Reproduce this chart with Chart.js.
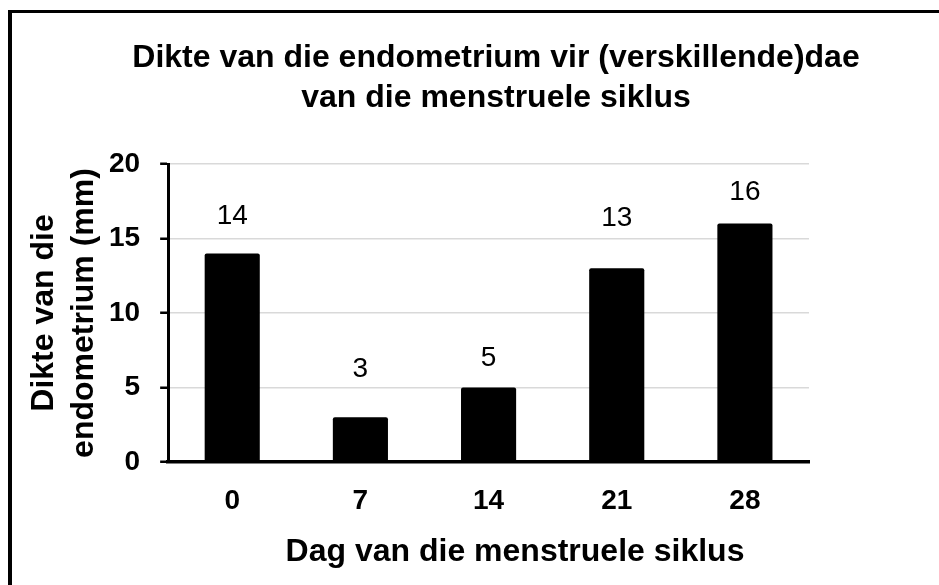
<!DOCTYPE html>
<html>
<head>
<meta charset="utf-8">
<script src="https://cdn.jsdelivr.net/npm/chart.js@4.4.1/dist/chart.umd.min.js"></script>
<style>
  html, body { margin: 0; padding: 0; background: #fff; overflow: hidden; }
  #wrap { position: relative; width: 939px; height: 585px; overflow: hidden; background: #fff; }
  #frame { position: absolute; left: 8px; top: 10px; width: 2000px; height: 2000px;
           border-left: 4px solid #000; border-top: 3px solid #000; pointer-events: none; }
  canvas { position: absolute; left: 0; top: 0; }
</style>
</head>
<body>
<div id="wrap">
  <canvas id="c" width="939" height="585"></canvas>
  <div id="frame"></div>
</div>
<script>
// ---- data ----
const categories = ["0", "7", "14", "21", "28"];
const thickness = [14, 3, 5, 13, 16];
const yTicks = [0, 5, 10, 15, 20];
const chartTitle = ["Dikte van die endometrium vir (verskillende)dae", "van die menstruele siklus"];
const xTitle = "Dag van die menstruele siklus";
const yTitle = ["Dikte van die", "endometrium (mm)"];

// ---- styling (label distance above each bar, px) ----
const labelLift = [37, 48, 29, 50, 31];

const FONT = "'Liberation Sans', Arial, Helvetica, sans-serif";

// value labels above bars
const valueLabels = {
  id: 'valueLabels',
  afterDatasetsDraw(chart) {
    const ctx = chart.ctx;
    const meta = chart.getDatasetMeta(0);
    ctx.save();
    ctx.font = "28px " + FONT;
    ctx.fillStyle = "#000";
    ctx.textAlign = "center";
    ctx.textBaseline = "middle";
    meta.data.forEach((bar, i) => {
      ctx.fillText(String(thickness[i]), bar.x, bar.y - labelLift[i]);
    });
    ctx.restore();
  }
};

// shift title texts horizontally to match the reference placement
const titleShift = {
  id: 'titleShift',
  beforeDraw(chart) {
    const tb = chart.titleBlock;
    if (tb && !tb._shifted) {
      const orig = tb.draw;
      tb.draw = function () {
        const dx = 496 - (this.left + this.right) / 2;
        this.ctx.save();
        this.ctx.translate(dx, 0);
        orig.apply(this, arguments);
        this.ctx.restore();
      };
      tb._shifted = true;
    }
    const xs = chart.scales.x;
    if (xs && !xs._shifted) {
      const origT = xs.drawTitle;
      xs.drawTitle = function () {
        const dx = 515 - (this.left + this.right) / 2;
        this.ctx.save();
        this.ctx.translate(dx, 0);
        origT.apply(this, arguments);
        this.ctx.restore();
      };
      xs._shifted = true;
    }
  }
};

new Chart(document.getElementById('c'), {
  type: 'bar',
  data: {
    labels: categories,
    datasets: [{
      data: thickness,
      backgroundColor: '#000',
      borderWidth: 0,
      borderRadius: 2,
      borderSkipped: 'bottom',
      barPercentage: 0.43,
      categoryPercentage: 1
    }]
  },
  options: {
    responsive: false,
    animation: false,
    devicePixelRatio: 1,
    layout: { padding: { left: 14, right: 130, top: 18, bottom: 14 } },
    plugins: {
      legend: { display: false },
      tooltip: { enabled: false },
      title: {
        display: true,
        text: chartTitle,
        color: '#000',
        font: { family: FONT, size: 32, weight: 'bold', lineHeight: 1.25 },
        padding: { top: 20, bottom: 46 }
      }
    },
    scales: {
      x: {
        grid: { display: false, drawTicks: true, tickLength: 22 },
        border: { display: true, color: '#000', width: 3.5 },
        ticks: { color: '#000', padding: 0, font: { family: FONT, size: 28, weight: 'bold', lineHeight: 1.2 } },
        title: {
          display: true,
          text: xTitle,
          color: '#000',
          font: { family: FONT, size: 32, weight: 'bold', lineHeight: 1.2 },
          padding: { top: 15, bottom: 0 }
        }
      },
      y: {
        min: 0,
        max: 20,
        afterBuildTicks(scale) { scale.ticks = yTicks.map(v => ({ value: v })); },
        grid: { color: '#d9d9d9', lineWidth: 1.5, tickLength: 8, tickColor: '#000', tickWidth: 2.5, drawTicks: true },
        border: { display: true, color: '#000', width: 3 },
        ticks: { color: '#000', padding: 20, font: { family: FONT, size: 28, weight: 'bold', lineHeight: 1.2 } },
        title: {
          display: true,
          text: yTitle,
          color: '#000',
          font: { family: FONT, size: 32, weight: 'bold', lineHeight: 1.25 },
          padding: { top: 10, bottom: -15 }
        }
      }
    }
  },
  plugins: [valueLabels, titleShift]
});
</script>
</body>
</html>
